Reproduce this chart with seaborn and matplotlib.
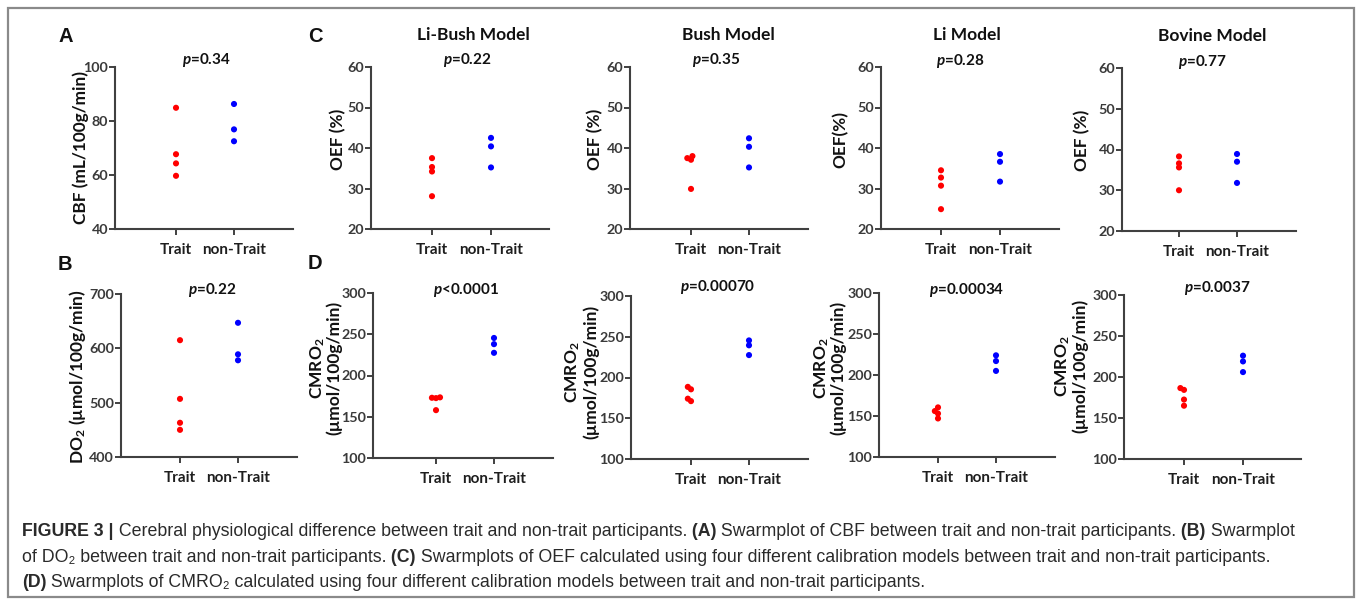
import numpy as np
import pandas as pd
import matplotlib
matplotlib.use("Agg")
import matplotlib.pyplot as plt
import seaborn as sns
from matplotlib.patches import Rectangle
from matplotlib import font_manager

# ---------------- data ----------------
categories = ["Trait", "non-Trait"]

cbf_trait = [84.9, 67.7, 64.3, 59.7]
cbf_non = [86.3, 76.9, 72.5]

do2_trait = [615, 507, 463, 450]
do2_non = [647, 589, 578]

oef_libush_trait = [37.5, 35.3, 34.2, 28.1]
oef_libush_non = [42.5, 40.4, 35.2]
oef_bush_trait = [38.0, 37.5, 37.1, 29.9]
oef_bush_non = [42.4, 40.3, 35.2]
oef_li_trait = [34.5, 32.7, 30.7, 24.9]
oef_li_non = [38.5, 36.6, 31.7]
oef_bovine_trait = [38.3, 36.6, 35.6, 30.0]
oef_bovine_non = [38.9, 37.0, 31.8]

cmro2_libush_trait = [173.5, 173.0, 172.6, 158.0]
cmro2_libush_non = [245.5, 238.0, 227.5]
cmro2_bush_trait = [188.5, 185.5, 174.0, 171.0]
cmro2_bush_non = [245.5, 239.5, 227.5]
cmro2_li_trait = [160.5, 156.0, 153.0, 147.0]
cmro2_li_non = [224.0, 217.0, 205.0]
cmro2_bovine_trait = [186.5, 184.3, 172.5, 165.0]
cmro2_bovine_non = [226.0, 219.0, 206.0]

model_titles = ["Li-Bush Model", "Bush Model", "Li Model", "Bovine Model"]
p_cbf = "=0.34"
p_do2 = "=0.22"
p_oef = ["=0.22", "=0.35", "=0.28", "=0.77"]
p_cmro2 = ["<0.0001", "=0.00070", "=0.00034", "=0.0037"]

cbf_ticks = [40, 60, 80, 100]
do2_ticks = [400, 500, 600, 700]
oef_ticks = [20, 30, 40, 50, 60]
cmro2_ticks = [100, 150, 200, 250, 300]

# ---------------- style ----------------
sns.set_style("ticks")
plt.rcParams['font.family'] = ['Lato', 'DejaVu Sans']
plt.rcParams['mathtext.fontset'] = 'custom'
plt.rcParams['mathtext.rm'] = 'Lato:bold'
plt.rcParams['mathtext.it'] = 'Lato:italic:bold'
plt.rcParams['mathtext.bf'] = 'Lato:bold'

palette = {"Trait": "#ff0000", "non-Trait": "#0000ff"}
SPINE = "#404040"
SWARM_SIZE = 2.8     # collision diameter used for the swarm layout
DOT_SIZE = 4.4       # drawn marker diameter (points overlap a bit, like the original)

W, H = 1357, 601
fig = plt.figure(figsize=(W / 100, H / 100), dpi=100)
fig.patch.set_facecolor("white")


def fx(px):
    return px / W


def fy(py):
    return 1 - py / H


all_axes = []


def panel(left, right, top, bottom, trait_px, non_px, trait, non, ticks):
    ax = fig.add_axes([fx(left), fy(bottom), (right - left) / W, (bottom - top) / H])
    df = pd.DataFrame({
        "group": ["Trait"] * len(trait) + ["non-Trait"] * len(non),
        "value": list(trait) + list(non),
    })
    sns.swarmplot(data=df, x="group", y="value", hue="group", order=categories,
                  hue_order=categories, palette=palette, size=SWARM_SIZE, linewidth=0,
                  legend=False, ax=ax)
    step = non_px - trait_px
    ax.set_xlim((left - trait_px) / step, (right - trait_px) / step)
    ax.set_ylim(ticks[0], ticks[-1])
    ax.set_yticks(ticks)
    ax.set_yticklabels([str(t) for t in ticks], fontsize=10.3, fontweight="bold",
                       color="#3a3a3a")
    ax.set_xticks([0, 1])
    ax.set_xticklabels(categories, fontsize=11, fontweight="bold", color="#1e1e1e")
    ax.set_xlabel("")
    ax.set_ylabel("")
    sns.despine(ax=ax)
    for s in ("left", "bottom"):
        ax.spines[s].set_color(SPINE)
        ax.spines[s].set_linewidth(1.5)
    ax.tick_params(axis="y", length=4, width=1.4, color=SPINE, pad=1)
    ax.tick_params(axis="x", length=4, width=1.4, color=SPINE, pad=6)
    ax.set_facecolor("none")
    all_axes.append(ax)
    return ax


# top row / bottom row panels
panel(115, 293, 67, 229, 176, 234, cbf_trait, cbf_non, cbf_ticks)
panel(121, 297, 294, 457, 180, 238, do2_trait, do2_non, do2_ticks)

oef_sets = [(oef_libush_trait, oef_libush_non), (oef_bush_trait, oef_bush_non),
            (oef_li_trait, oef_li_non), (oef_bovine_trait, oef_bovine_non)]
cmro2_sets = [(cmro2_libush_trait, cmro2_libush_non), (cmro2_bush_trait, cmro2_bush_non),
              (cmro2_li_trait, cmro2_li_non), (cmro2_bovine_trait, cmro2_bovine_non)]

c_geom = [(371, 549, 67, 229, 432, 491), (630, 808, 67, 229, 691, 749),
          (881, 1059, 67, 229, 941, 1000), (1122, 1296, 68, 231, 1179, 1237)]
d_geom = [(373, 553, 293, 458, 436, 494), (631, 808, 296, 459, 691, 749),
          (879, 1055, 293, 457, 938, 996), (1124, 1301, 295, 459, 1184, 1243)]

for (l, r, t, b, tp, npx), (tr, nn) in zip(c_geom, oef_sets):
    panel(l, r, t, b, tp, npx, tr, nn, oef_ticks)
for (l, r, t, b, tp, npx), (tr, nn) in zip(d_geom, cmro2_sets):
    panel(l, r, t, b, tp, npx, tr, nn, cmro2_ticks)

# ---------------- texts ----------------
TXT = "#111111"
LAB = 12.5


def ftext(x, y, s, **kw):
    return fig.text(fx(x), fy(y), s, ha=kw.pop("ha", "center"), va=kw.pop("va", "center"), **kw)


# panel letters
for letter, (x, y) in zip("ABCD", [(66, 36), (65, 264), (315, 36), (315, 263)]):
    ftext(x, y, letter, fontsize=14.5, fontweight="bold", color="#111111",
          family=["Liberation Sans", "DejaVu Sans"])

# model titles
for title, (x, y) in zip(model_titles, [(473, 35), (728, 35), (967, 35), (1212, 36)]):
    ftext(x, y, title, fontsize=12.5, fontweight="bold", color=TXT)

# p-values
ftext(206, 60, r"$\mathit{p}$" + p_cbf, fontsize=11, fontweight="bold", color=TXT)
ftext(212, 290, r"$\mathit{p}$" + p_do2, fontsize=11, fontweight="bold", color=TXT)
for p, (x, y) in zip(p_oef, [(467, 60), (716, 60), (960, 61), (1202, 62)]):
    ftext(x, y, r"$\mathit{p}$" + p, fontsize=11, fontweight="bold", color=TXT)
for p, (x, y) in zip(p_cmro2, [(466, 290), (718, 287), (967, 290), (1217, 288)]):
    ftext(x, y, r"$\mathit{p}$" + p, fontsize=11, fontweight="bold", color=TXT)

# y labels
ftext(81, 148, "CBF (mL/100g/min)", rotation=90, fontsize=12.4, fontweight="bold", color=TXT)
ftext(77.5, 377, r"DO$_\mathrm{2}$ (µmol/100g/min)", rotation=90, fontsize=LAB,
      fontweight="bold", color=TXT)
for lab, (x, y) in zip(["OEF (%)", "OEF (%)", "OEF(%)", "OEF (%)"],
                       [(338, 139), (595, 139), (840, 139), (1082, 140)]):
    ftext(x, y, lab, rotation=90, fontsize=12.4, fontweight="bold", color=TXT)
for (x1, x2, y) in [(317.5, 334, 368), (572.5, 591, 372), (822, 838, 368), (1063, 1080, 366)]:
    ftext(x1, y, r"CMRO$_\mathrm{2}$", rotation=90, fontsize=LAB, fontweight="bold", color=TXT)
    ftext(x2, y, "(µmol/100g/min)", rotation=90, fontsize=LAB, fontweight="bold", color=TXT)

# frame
fig.patches.append(Rectangle((fx(8), fy(597)), (1354 - 8) / W, (597 - 8) / H,
                             transform=fig.transFigure, fill=False,
                             edgecolor="#8a8a8a", linewidth=1.6))

# ---------------- caption ----------------
names = {f.name for f in font_manager.fontManager.ttflist}
cap_font = "Liberation Sans Narrow" if "Liberation Sans Narrow" in names else "Liberation Sans"
CAP_FAM = [cap_font, "DejaVu Sans"]
CAP_COL = "#2a2a2a"

line1 = [("FIGURE 3 |", True),
         (" Cerebral physiological difference between trait and non-trait participants.", False),
         (" (A)", True),
         (" Swarmplot of CBF between trait and non-trait participants.", False),
         (" (B)", True),
         (" Swarmplot", False)]
line2 = [("of DO\u2082 between trait and non-trait participants.", False),
         (" (C)", True),
         (" Swarmplots of OEF calculated using four different calibration models between trait and non-trait participants.", False)]
line3 = [("(D)", True),
         (" Swarmplots of CMRO\u2082 calculated using four different calibration models between trait and non-trait participants.", False)]

renderer = fig.canvas.get_renderer()


def draw_runs(runs, x0, yb, size, keep=True):
    x = x0
    made = []
    for txt, bold in runs:
        t = fig.text(fx(x), fy(yb), txt, fontsize=size,
                     fontweight="bold" if bold else "normal",
                     family=CAP_FAM, color=CAP_COL, ha="left", va="baseline")
        bb = t.get_window_extent(renderer)
        x += bb.width
        made.append(t)
    if not keep:
        for t in made:
            t.remove()
    return x - x0


w10 = draw_runs(line1, 22, 536, 10, keep=False)
cap_size = 10 * (1303 - 22) / w10

draw_runs(line1, 22, 536, cap_size)
draw_runs(line2, 22, 562, cap_size)
draw_runs(line3, 22, 587, cap_size)

# first draw: seaborn lays out the swarms with the small collision size;
# afterwards keep those positions and draw the dots at their full size
fig.canvas.draw()
for ax in all_axes:
    for coll in ax.collections:
        if "draw" in coll.__dict__:
            del coll.__dict__["draw"]
        coll.set_sizes([DOT_SIZE ** 2])

fig.savefig("out.png", dpi=100, facecolor="white")
